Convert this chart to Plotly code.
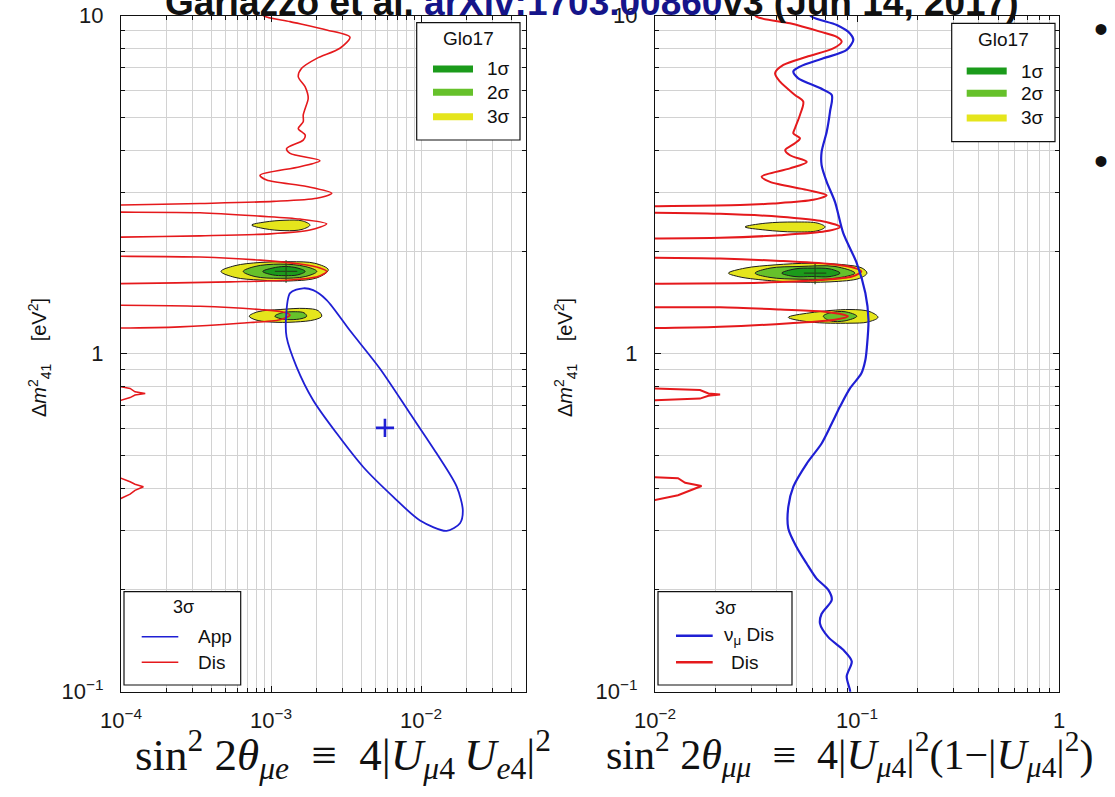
import plotly.graph_objects as go

W, H = 1115, 797

# ---------------- Glo17 global fit: allowed regions (x = sin^2 2theta, y = dm41^2 [eV^2]) -------------
# left panel: sin^2 2theta_mue
gl_up3_x = [7.43e-4, 9.12e-4, 1.24e-3, 1.61e-3, 1.82e-3, 1.61e-3, 1.24e-3, 9.12e-4]
gl_up3_y = [2.40, 2.45, 2.48, 2.47, 2.40, 2.33, 2.31, 2.34]
gl_mid3_x = [4.64e-4, 5.75e-4, 8.45e-4, 1.34e-3, 1.96e-3, 2.41e-3, 2.06e-3, 1.34e-3, 8.45e-4, 5.75e-4]
gl_mid3_y = [1.75, 1.82, 1.86, 1.87, 1.85, 1.77, 1.68, 1.64, 1.65, 1.68]
gl_mid2_x = [6.53e-4, 7.82e-4, 1.15e-3, 1.69e-3, 2.02e-3, 1.69e-3, 1.15e-3, 7.82e-4]
gl_mid2_y = [1.75, 1.81, 1.84, 1.81, 1.75, 1.69, 1.67, 1.69]
gl_mid1_x = [8.81e-4, 1.02e-3, 1.24e-3, 1.51e-3, 1.69e-3, 1.51e-3, 1.24e-3, 1.02e-3]
gl_mid1_y = [1.75, 1.79, 1.81, 1.79, 1.75, 1.71, 1.70, 1.71]
gl_low3_x = [7.16e-4, 8.19e-4, 1.15e-3, 1.69e-3, 2.06e-3, 2.18e-3, 1.96e-3, 1.45e-3, 9.85e-4, 7.82e-4]
gl_low3_y = [1.29, 1.33, 1.35, 1.36, 1.34, 1.29, 1.26, 1.24, 1.24, 1.26]
gl_low2_x = [1.06e-3, 1.18e-3, 1.45e-3, 1.66e-3, 1.73e-3, 1.61e-3, 1.34e-3, 1.15e-3]
gl_low2_y = [1.29, 1.32, 1.33, 1.32, 1.29, 1.27, 1.26, 1.27]
gl_best_l = (1.26e-3, 1.75)

# right panel: sin^2 2theta_mumu
gr_up3_x = [0.0279, 0.0351, 0.0493, 0.0641, 0.0695, 0.0641, 0.0493, 0.0351]
gr_up3_y = [2.37, 2.43, 2.45, 2.43, 2.37, 2.31, 2.29, 2.32]
gr_mid3_x = [0.0231, 0.0279, 0.0393, 0.0585, 0.0873, 0.106, 0.112, 0.103, 0.0735, 0.0466, 0.0313, 0.0258]
gr_mid3_y = [1.73, 1.79, 1.83, 1.85, 1.83, 1.79, 1.73, 1.67, 1.63, 1.63, 1.66, 1.69]
gr_mid2_x = [0.0313, 0.0371, 0.0522, 0.0778, 0.0977, 0.0778, 0.0522, 0.0371]
gr_mid2_y = [1.73, 1.79, 1.81, 1.81, 1.73, 1.67, 1.66, 1.68]
gr_mid1_x = [0.0424, 0.0493, 0.0598, 0.0735, 0.0824, 0.0735, 0.0598, 0.0493]
gr_mid1_y = [1.73, 1.78, 1.79, 1.78, 1.73, 1.69, 1.69, 1.69]
gr_low3_x = [0.0457, 0.0585, 0.0923, 0.116, 0.127, 0.113, 0.0923, 0.0585]
gr_low3_y = [1.28, 1.32, 1.35, 1.33, 1.28, 1.24, 1.23, 1.24]
gr_low2_x = [0.0681, 0.0735, 0.0873, 0.0998, 0.0873, 0.0735]
gr_low2_y = [1.29, 1.32, 1.33, 1.29, 1.25, 1.25]
gr_best = (0.0620, 1.73)

# ---------------- 3 sigma disappearance bound, left panel ----------------
dis_l_main_x = [8.5e-4, 8.89e-4, 1.34e-3, 2.35e-3, 3.36e-3, 2.88e-3, 2.02e-3, 1.60e-3, 1.52e-3, 1.69e-3,
                1.77e-3, 1.69e-3, 1.64e-3, 1.64e-3, 1.52e-3, 1.69e-3, 1.64e-3, 1.27e-3, 1.34e-3, 2.12e-3,
                1.56e-3, 8.45e-4, 9.36e-4, 1.73e-3, 2.54e-3, 2.02e-3, 1.04e-3, 3.36e-4, 1.0e-4, 5e-5]
dis_l_main_y = [10.4, 10.0, 9.59, 9.06, 8.63, 8.0, 7.47, 6.98, 6.59, 6.15,
                5.69, 5.31, 5.08, 4.85, 4.63, 4.43, 4.28, 4.04, 3.91, 3.72,
                3.57, 3.37, 3.26, 3.12, 2.98, 2.88, 2.82, 2.78, 2.75, 2.74]
dis_l_t2_x = [5e-5, 1e-4, 3.36e-4, 8.45e-4, 1.56e-3, 2.35e-3, 1.82e-3, 9.85e-4, 3.36e-4, 1e-4, 5e-5]
dis_l_t2_y = [2.62, 2.62, 2.61, 2.55, 2.50, 2.42, 2.32, 2.26, 2.23, 2.21, 2.21]
dis_l_t3_x = [5e-5, 1e-4, 3.36e-4, 8.45e-4, 1.56e-3, 2.12e-3, 2.35e-3, 2.06e-3, 1.34e-3, 5.33e-4, 1e-4, 5e-5]
dis_l_t3_y = [1.94, 1.94, 1.93, 1.89, 1.84, 1.79, 1.75, 1.69, 1.65, 1.63, 1.61, 1.61]
dis_l_t4_x = [5e-5, 1e-4, 3.36e-4, 8.45e-4, 1.18e-3, 1.34e-3, 1.15e-3, 6.21e-4, 2.47e-4, 1e-4, 5e-5]
dis_l_t4_y = [1.39, 1.39, 1.38, 1.35, 1.33, 1.30, 1.26, 1.23, 1.20, 1.19, 1.19]
dis_l_t5_x = [5e-5, 1e-4, 1.15e-4, 1.24e-4, 1.45e-4, 1.24e-4, 1.15e-4, 1e-4, 5e-5]
dis_l_t5_y = [0.798, 0.798, 0.789, 0.771, 0.762, 0.754, 0.741, 0.728, 0.728]
dis_l_t6_x = [5e-5, 1e-4, 1.15e-4, 1.24e-4, 1.41e-4, 1.24e-4, 1.15e-4, 1e-4, 5e-5]
dis_l_t6_y = [0.428, 0.428, 0.418, 0.411, 0.404, 0.394, 0.384, 0.373, 0.373]

# ---------------- 3 sigma appearance region, left panel ----------------
app_x = [2.74e-3, 4.12e-3, 6.53e-3, 9.85e-3, 0.0148, 0.0182, 0.0190, 0.0173, 0.0127, 8.45e-3,
         5.33e-3, 3.36e-3, 2.35e-3, 1.91e-3, 1.64e-3, 1.34e-3, 1.26e-3, 1.27e-3, 1.48e-3, 1.91e-3, 2.74e-3]
app_y = [0.581, 0.462, 0.377, 0.321, 0.299, 0.315, 0.344, 0.404, 0.507, 0.665,
         0.902, 1.17, 1.44, 1.54, 1.56, 1.51, 1.28, 1.12, 0.914, 0.728, 0.581]
app_best = (5.75e-3, 0.603)

# ---------------- 3 sigma disappearance bound, right panel ----------------
dis_r_main_x = [0.0302, 0.0318, 0.0466, 0.0656, 0.0794, 0.0840, 0.0763, 0.0564, 0.0432, 0.0393,
                0.0416, 0.0493, 0.0542, 0.0522, 0.0493, 0.0484, 0.0522, 0.0493, 0.0441, 0.0466,
                0.0564, 0.0466, 0.0337, 0.0371, 0.0564, 0.0708, 0.0608, 0.0385, 0.0264, 0.01, 0.005]
dis_r_main_y = [10.4, 9.92, 9.48, 8.96, 8.65, 8.36, 7.99, 7.55, 7.14, 6.75,
                6.37, 5.82, 5.56, 5.08, 4.64, 4.48, 4.33, 4.19, 4.00, 3.86,
                3.69, 3.53, 3.34, 3.22, 3.05, 2.94, 2.85, 2.78, 2.75, 2.73, 2.72]
dis_r_t2_x = [0.005, 0.01, 0.0210, 0.0416, 0.0656, 0.0824, 0.0695, 0.0416, 0.0210, 0.01, 0.005]
dis_r_t2_y = [2.61, 2.61, 2.59, 2.54, 2.47, 2.37, 2.30, 2.24, 2.20, 2.19, 2.19]
dis_r_t3_x = [0.005, 0.01, 0.0210, 0.0416, 0.0735, 0.0977, 0.105, 0.0944, 0.0656, 0.0331, 0.01, 0.005]
dis_r_t3_y = [1.92, 1.92, 1.91, 1.88, 1.84, 1.79, 1.75, 1.69, 1.65, 1.62, 1.61, 1.61]
dis_r_t4_x = [0.005, 0.01, 0.0210, 0.0416, 0.0695, 0.0902, 0.0778, 0.0466, 0.0210, 0.01, 0.005]
dis_r_t4_y = [1.37, 1.37, 1.37, 1.35, 1.33, 1.29, 1.26, 1.23, 1.20, 1.19, 1.19]
dis_r_t5_x = [0.005, 0.01, 0.0167, 0.0184, 0.0210, 0.0184, 0.0167, 0.01, 0.005]
dis_r_t5_y = [0.789, 0.789, 0.780, 0.762, 0.757, 0.750, 0.736, 0.728, 0.728]
dis_r_t6_x = [0.005, 0.01, 0.0130, 0.0141, 0.0170, 0.0144, 0.0130, 0.01, 0.005]
dis_r_t6_y = [0.431, 0.431, 0.428, 0.415, 0.406, 0.390, 0.381, 0.369, 0.369]

# ---------------- 3 sigma nu_mu disappearance bound, right panel ----------------
numu_x = [0.0553, 0.0597, 0.0794, 0.0923, 0.0959, 0.0889, 0.0681, 0.0522, 0.0484, 0.0512,
          0.0656, 0.0750, 0.0735, 0.0708, 0.0668, 0.0668, 0.0708, 0.0778, 0.0855, 0.0998,
          0.110, 0.114, 0.112, 0.110, 0.105, 0.0923, 0.0824, 0.0750, 0.0668, 0.0564,
          0.0484, 0.0457, 0.0457, 0.0502, 0.0564, 0.0631, 0.0721, 0.0750, 0.0668, 0.0656,
          0.0721, 0.0855, 0.0942, 0.0889, 0.0923, 0.0933]
numu_y = [10.5, 9.92, 9.37, 8.85, 8.47, 7.91, 7.47, 7.06, 6.83, 6.52,
          6.10, 5.82, 5.19, 4.53, 3.95, 3.61, 3.22, 2.81, 2.27, 1.85,
          1.51, 1.26, 1.05, 0.957, 0.873, 0.789, 0.697, 0.621, 0.542, 0.473,
          0.404, 0.352, 0.304, 0.268, 0.239, 0.216, 0.200, 0.187, 0.170, 0.159,
          0.145, 0.133, 0.123, 0.111, 0.101, 0.0944]

# ---------------- axis ticks ----------------
y_tickvals = [0.1, 1, 10]
y_ticktext = ["10<sup>−1</sup>", "1", "10"]
xl_tickvals = [1e-4, 1e-3, 1e-2]
xl_ticktext = ["10<sup>−4</sup>", "10<sup>−3</sup>", "10<sup>−2</sup>"]
xr_tickvals = [1e-2, 1e-1, 1]
xr_ticktext = ["10<sup>−2</sup>", "10<sup>−1</sup>", "1"]
minor_vals = [k * 10.0 ** e for e in range(-5, 2) for k in range(2, 10)]

C1, C2, C3 = "#1b9b1b", "#66c12b", "#e5e51c"
RED, BLUE = "#e5191c", "#1f1fd4"
OUTLINE = "#1d1d1d"
GRID = "#d2d2d2"
SANS = "Liberation Sans, Arial, sans-serif"
SERIF = "Liberation Serif, Times New Roman, serif"


def px(X):
    return X / W


def py(Y):
    return 1 - Y / H


fig = go.Figure()


def region(x, y, color, ax):
    xa, ya = ax
    fig.add_trace(go.Scatter(x=x + [x[0]], y=y + [y[0]], mode="lines", fill="toself",
                             fillcolor=color, line=dict(color=OUTLINE, width=1, shape="spline", smoothing=1.0),
                             xaxis=xa, yaxis=ya, showlegend=False, hoverinfo="skip"))


def curve(x, y, color, width, ax, smooth=True):
    xa, ya = ax
    line = dict(color=color, width=width)
    if smooth:
        line.update(shape="spline", smoothing=0.8)
    fig.add_trace(go.Scatter(x=x, y=y, mode="lines", line=line, xaxis=xa, yaxis=ya,
                             showlegend=False, hoverinfo="skip"))


L = ("x", "y")
R = ("x2", "y2")

# Glo17 regions, left
region(gl_up3_x, gl_up3_y, C3, L)
region(gl_mid3_x, gl_mid3_y, C3, L)
region(gl_mid2_x, gl_mid2_y, C2, L)
region(gl_mid1_x, gl_mid1_y, C1, L)
region(gl_low3_x, gl_low3_y, C3, L)
region(gl_low2_x, gl_low2_y, C2, L)
# Glo17 regions, right
region(gr_up3_x, gr_up3_y, C3, R)
region(gr_mid3_x, gr_mid3_y, C3, R)
region(gr_mid2_x, gr_mid2_y, C2, R)
region(gr_mid1_x, gr_mid1_y, C1, R)
region(gr_low3_x, gr_low3_y, C3, R)
region(gr_low2_x, gr_low2_y, C2, R)

for (bx, by), ax in ((gl_best_l, L), (gr_best, R)):
    fig.add_trace(go.Scatter(x=[bx], y=[by], mode="markers", xaxis=ax[0], yaxis=ax[1],
                             marker=dict(symbol="cross-thin", size=16, line=dict(color="#234a18", width=1.2)),
                             showlegend=False, hoverinfo="skip"))

# disappearance bounds
for xs, ys in ((dis_l_main_x, dis_l_main_y), (dis_l_t2_x, dis_l_t2_y), (dis_l_t3_x, dis_l_t3_y),
               (dis_l_t4_x, dis_l_t4_y)):
    curve(xs, ys, RED, 1.6, L)
for xs, ys in ((dis_l_t5_x, dis_l_t5_y), (dis_l_t6_x, dis_l_t6_y)):
    curve(xs, ys, RED, 1.6, L, smooth=False)
for xs, ys in ((dis_r_main_x, dis_r_main_y), (dis_r_t2_x, dis_r_t2_y), (dis_r_t3_x, dis_r_t3_y),
               (dis_r_t4_x, dis_r_t4_y)):
    curve(xs, ys, RED, 2.0, R)
for xs, ys in ((dis_r_t5_x, dis_r_t5_y), (dis_r_t6_x, dis_r_t6_y)):
    curve(xs, ys, RED, 2.0, R, smooth=False)

# appearance region and nu_mu disappearance
curve(app_x, app_y, BLUE, 1.8, L)
fig.add_trace(go.Scatter(x=[app_best[0]], y=[app_best[1]], mode="markers", xaxis="x", yaxis="y",
                         marker=dict(symbol="cross-thin", size=13, line=dict(color=BLUE, width=2.6)),
                         showlegend=False, hoverinfo="skip"))
curve(numu_x, numu_y, BLUE, 2.2, R)

# ---------------- axes ----------------
ydom = [py(691.7), py(15.5)]
common = dict(type="log", automargin=False, showline=True, linecolor="#111", linewidth=1.2,
              mirror="allticks", ticks="inside", ticklen=6, tickcolor="#111", showgrid=True,
              gridcolor=GRID, gridwidth=1.2, zeroline=False,
              tickfont=dict(family=SANS, size=22, color="#1a1a1a"),
              minor=dict(tickmode="array", tickvals=minor_vals, ticks="inside", ticklen=4,
                         tickcolor="#111", showgrid=True, gridcolor=GRID, gridwidth=1.2))
fig.update_layout(
    xaxis=dict(common, domain=[px(121), px(526)], range=[-4, -1.3], tickmode="array",
               tickvals=xl_tickvals, ticktext=xl_ticktext, anchor="y", ticklabelstandoff=9),
    yaxis=dict(common, domain=ydom, range=[-1, 1], tickmode="array",
               tickvals=y_tickvals, ticktext=y_ticktext, anchor="x", ticklabelstandoff=12),
    xaxis2=dict(common, domain=[px(655), px(1059)], range=[-2, 0], tickmode="array",
                tickvals=xr_tickvals, ticktext=xr_ticktext, anchor="y2", ticklabelstandoff=9),
    yaxis2=dict(common, domain=ydom, range=[-1, 1], tickmode="array",
                tickvals=y_tickvals, ticktext=y_ticktext, anchor="x2", ticklabelstandoff=12),
)

# ---------------- legends (drawn in page coordinates) ----------------
shapes = []
annotations = []


def box(x0, y0, x1, y1):
    shapes.append(dict(type="rect", xref="paper", yref="paper", x0=px(x0), x1=px(x1), y0=py(y1), y1=py(y0),
                       fillcolor="white", line=dict(color="#111", width=1.2), layer="above"))


def sample(x0, x1, Y, color, width):
    shapes.append(dict(type="line", xref="paper", yref="paper", x0=px(x0), x1=px(x1), y0=py(Y), y1=py(Y),
                       line=dict(color=color, width=width), layer="above"))


def label(X, Y, text, size=18, anchor="center", family=SANS, color="#111", angle=0):
    annotations.append(dict(xref="paper", yref="paper", x=px(X), y=py(Y), text=text, showarrow=False,
                            xanchor=anchor, yanchor="middle", textangle=angle,
                            font=dict(family=family, size=size, color=color)))


for (bx0, by0, bx1, by1, lx0, lx1, ys, tx) in (
        (416.7, 22.7, 520, 140, 433, 473, (69, 92.3, 116.7), 512),
        (951.7, 23.3, 1055, 141.7, 966.7, 1006.7, (71, 93.3, 118), 1046)):
    box(bx0, by0, bx1, by1)
    label((bx0 + bx1) / 2, by0 + 16, "Glo17", size=19)
    for Y, col, txt in zip(ys, (C1, C2, C3), ("1σ", "2σ", "3σ")):
        sample(lx0, lx1, Y, col, 7)
        label(tx, Y, txt, size=19, anchor="right")

box(124, 591.7, 240.7, 685)
label(183, 607, "3σ", size=18)
sample(141.7, 178.3, 636.7, BLUE, 1.6)
sample(141.7, 178.3, 662.3, RED, 1.6)
label(196, 636.7, "App", size=19, anchor="left")
label(196, 662.3, "Dis", size=19, anchor="left")

box(658, 591.7, 792, 685)
label(725, 608, "3σ", size=18)
sample(676, 712.7, 635.7, BLUE, 2.6)
sample(676, 712.7, 662.3, RED, 2.6)
label(722, 635.7, "ν<sub>μ</sub> Dis", size=19, anchor="left")
label(729, 662.3, "Dis", size=19, anchor="left")

# axis titles
ytitle = "Δ<i>m</i><sup>2</sup><sub>41</sub>    [eV<sup>2</sup>]"
label(40, 358, ytitle, size=20, angle=-90)
label(566, 358, ytitle, size=20, angle=-90)
label(343, 754, "sin<sup>2</sup> 2<i>θ</i><sub><i>μe</i></sub>\u2002≡\u20024|<i>U</i><sub><i>μ</i>4</sub>"
               "\u2009<i>U</i><sub><i>e</i>4</sub>|<sup>2</sup>", size=45, family=SERIF)
label(849, 754, "sin<sup>2</sup> 2<i>θ</i><sub><i>μμ</i></sub>\u2002≡\u20024|<i>U</i><sub><i>μ</i>4</sub>|<sup>2</sup>"
               "(1−|<i>U</i><sub><i>μ</i>4</sub>|<sup>2</sup>)", size=42, family=SERIF)

# slide header and bullets
annotations.append(dict(xref="paper", yref="paper", x=px(163), y=py(2), xanchor="left", yanchor="middle",
                        showarrow=False, font=dict(family=SANS, size=37, color="#111"),
                        text="<b>Gariazzo et al. <span style='color:#15158a'>arXiv:1703.00860</span>"
                             "v3 (Jun 14, 2017)</b>"))
label(1101, 29, "•", size=40)
label(1101, 161, "•", size=40)

fig.update_layout(width=W, height=H, margin=dict(l=0, r=0, t=0, b=0, autoexpand=False),
                  plot_bgcolor="white", paper_bgcolor="white", showlegend=False,
                  shapes=shapes, annotations=annotations)

fig.write_html("out.html")
